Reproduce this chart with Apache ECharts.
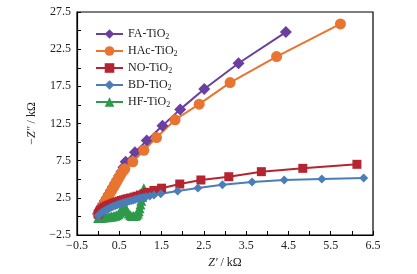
<!DOCTYPE html>
<html>
<head>
<meta charset="utf-8">
<script src="https://cdn.jsdelivr.net/npm/echarts@6.0.0/dist/echarts.min.js"></script>
<style>
	html, body { margin: 0; padding: 0; background: #fff; }
	#chart { width: 417px; height: 274px; }
</style>
</head>
<body>
<div id="chart"></div>
<script>
	// Nyquist data, Z' and -Z'' in kOhm
	var seriesNames = ['FA-TiO2', 'HAc-TiO2', 'NO-TiO2', 'BD-TiO2', 'HF-TiO2'];

	var faX = [0, 0.04, 0.08, 0.12, 0.16, 0.2, 0.25, 0.3, 0.35, 0.4, 0.45, 0.5, 0.55, 0.6, 0.65, 0.87, 1.15, 1.52, 1.94, 2.51, 3.32, 4.44];
	var faY = [0.4, 0.9, 1.3, 1.7, 2.1, 2.5, 3.0, 3.5, 4.0, 4.5, 5.0, 5.5, 6.0, 6.6, 7.36, 8.63, 10.2, 12.2, 14.4, 17.15, 20.6, 24.8];

	var hacX = [0, 0.03, 0.06, 0.09, 0.12, 0.15, 0.18, 0.21, 0.24, 0.28, 0.32, 0.36, 0.4, 0.44, 0.48, 0.52, 0.56, 0.6, 0.63, 0.82, 1.08, 1.38, 1.82, 2.39, 3.12, 4.22, 5.73];
	var hacY = [0.3, 0.6, 0.9, 1.2, 1.5, 1.8, 2.1, 2.4, 2.7, 3.1, 3.5, 3.9, 4.3, 4.7, 5.1, 5.5, 5.9, 6.2, 6.4, 7.35, 8.9, 10.6, 13.0, 15.1, 18.0, 21.5, 25.9];

	var noX = [0, 0.03, 0.06, 0.1, 0.15, 0.2, 0.25, 0.3, 0.35, 0.4, 0.45, 0.5, 0.55, 0.6, 0.65, 0.7, 0.77, 0.85, 0.92, 1.0, 1.08, 1.17, 1.32, 1.5, 1.93, 2.43, 3.09, 3.86, 4.84, 6.12];
	var noY = [0.3, 0.6, 0.85, 1.05, 1.25, 1.4, 1.52, 1.63, 1.74, 1.85, 1.95, 2.05, 2.14, 2.22, 2.3, 2.38, 2.48, 2.6, 2.72, 2.88, 3.05, 3.24, 3.5, 3.8, 4.36, 4.9, 5.34, 6.02, 6.47, 7.01];

	var bdX = [0, 0.03, 0.06, 0.1, 0.15, 0.2, 0.25, 0.3, 0.35, 0.4, 0.45, 0.5, 0.55, 0.6, 0.65, 0.69, 0.74, 0.79, 0.84, 0.89, 0.95, 1.0, 1.07, 1.13, 1.22, 1.32, 1.48, 1.88, 2.36, 2.94, 3.64, 4.4, 5.29, 6.28];
	var bdY = [0.1, 0.25, 0.4, 0.6, 0.75, 0.9, 1.05, 1.2, 1.33, 1.45, 1.55, 1.65, 1.74, 1.83, 1.91, 1.98, 2.07, 2.15, 2.22, 2.3, 2.39, 2.47, 2.56, 2.65, 2.76, 2.88, 3.05, 3.42, 3.82, 4.27, 4.63, 4.9, 5.03, 5.17];

	var hfX = [0, 0.04, 0.08, 0.12, 0.16, 0.2, 0.24, 0.28, 0.32, 0.36, 0.4, 0.44, 0.48, 0.51, 0.54, 0.57, 0.6, 0.63, 0.66, 0.69, 0.72, 0.76, 0.8, 0.84, 0.88, 0.91, 0.94, 0.96, 0.98, 1.0, 1.02, 1.04, 1.06, 1.08];
	var hfY = [-0.2, -0.2, -0.18, -0.15, -0.12, -0.1, -0.08, -0.05, -0.02, 0.02, 0.08, 0.15, 0.3, 0.5, 0.8, 1.1, 1.4, 1.3, 1.0, 0.7, 0.4, 0.15, 0.05, 0.05, 0.1, 0.2, 0.4, 0.7, 1.1, 1.6, 2.1, 2.6, 3.2, 3.8];

	var colors = ['#6b3fa0', '#e8742f', '#b52531', '#4a7eb8', '#2e9a48'];
	var symbols = ['diamond', 'circle', 'rect', 'diamond', 'triangle'];
	var symbolSizes = [12, 11, 9, 9, 10];

	function pairs(xs, ys) {
		var out = [];
		xs.forEach(function(x, i) {
			out.push([x, ys[i]]);
		});
		return out;
	}

	function tickLabel(v, start, step) {
		// only every second tick carries a label
		var k = Math.round((v - start) / step);
		if (k % 2 !== 0) return '';
		return v < 0 ? '\u2212' + Math.abs(v).toFixed(1) : v.toFixed(1);
	}

	var dataSets = [pairs(faX, faY), pairs(hacX, hacY), pairs(noX, noY), pairs(bdX, bdY), pairs(hfX, hfY)];
	// draw order: HF under the others, BD on top
	var drawOrder = [0, 1, 4, 2, 3];

	var series = [];
	drawOrder.forEach(function(i) {
		series.push({
			name: seriesNames[i],
			type: 'line',
			data: dataSets[i],
			symbol: symbols[i],
			symbolSize: symbolSizes[i],
			showSymbol: true,
			showAllSymbol: true,
			itemStyle: { color: colors[i] },
			lineStyle: { color: colors[i], width: 2 },
			emphasis: { disabled: true }
		});
	});

	var font = 'Liberation Serif';
	var options = {
		animation: false,
		backgroundColor: '#fff',
		textStyle: { fontFamily: font },
		legend: {
			data: seriesNames,
			orient: 'vertical',
			left: 90,
			top: 23,
			itemWidth: 27,
			itemHeight: 12,
			itemGap: 4,
			formatter: function(name) {
				return name.replace('TiO2', 'TiO{sub|2}');
			},
			textStyle: {
				fontFamily: font,
				fontSize: 12,
				color: '#222',
				rich: {
					sub: { fontFamily: font, fontSize: 8, verticalAlign: 'bottom', padding: [6, 0, 0, 0], color: '#222' }
				}
			}
		},
		grid: {
			left: 77,
			right: 44,
			top: 12,
			bottom: 39,
			show: true,
			borderColor: '#000',
			borderWidth: 1.2,
			backgroundColor: 'transparent'
		},
		xAxis: {
			type: 'value',
			min: -0.5,
			max: 6.5,
			interval: 0.5,
			name: '{i|Z\u2032} / k\u03a9',
			nameLocation: 'middle',
			nameGap: 22,
			nameTextStyle: {
				fontFamily: font, fontSize: 12, color: '#222',
				rich: { i: { fontFamily: font, fontStyle: 'italic', fontSize: 12, color: '#222' } }
			},
			splitLine: { show: false },
			axisLine: { onZero: false, lineStyle: { color: '#000', width: 1.2 } },
			axisTick: { inside: true, length: 4, lineStyle: { color: '#000' } },
			axisLabel: {
				fontFamily: font, fontSize: 12, color: '#222', margin: 5,
				formatter: function(v) { return tickLabel(v, -0.5, 0.5); }
			}
		},
		yAxis: {
			type: 'value',
			min: -2.5,
			max: 27.5,
			interval: 2.5,
			name: '\u2212{i|Z\u2033} / k\u03a9',
			nameLocation: 'middle',
			nameRotate: 90,
			nameGap: 30,
			nameTextStyle: {
				fontFamily: font, fontSize: 12, color: '#222',
				rich: { i: { fontFamily: font, fontStyle: 'italic', fontSize: 12, color: '#222' } }
			},
			splitLine: { show: false },
			axisLine: { onZero: false, lineStyle: { color: '#000', width: 1.2 } },
			axisTick: { inside: true, length: 4, lineStyle: { color: '#000' } },
			axisLabel: {
				fontFamily: font, fontSize: 12, color: '#222', margin: 6,
				formatter: function(v) { return tickLabel(v, -2.5, 2.5); }
			}
		},
		series: series
	};

	var myChart = echarts.init(document.getElementById('chart'), null, { renderer: 'canvas' });
	myChart.setOption(options);
</script>
</body>
</html>
